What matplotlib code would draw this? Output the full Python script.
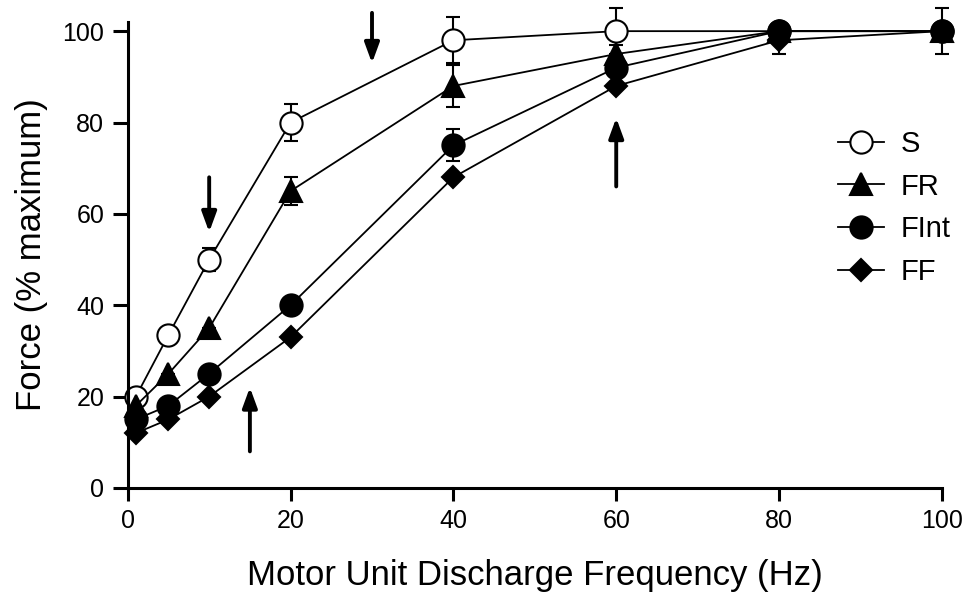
import matplotlib
matplotlib.use('Agg')
import matplotlib.pyplot as plt
from matplotlib.lines import Line2D

plt.rcParams['font.family'] = ['Liberation Sans', 'DejaVu Sans']

# data
freq = [1, 5, 10, 20, 40, 60, 80, 100]
s_force = [20, 33.5, 50, 80, 98, 100, 100, 100]
s_err = [0, 0, 2.5, 4, 5, 5, 0, 0]
fr_force = [18, 25, 35, 65, 88, 95, 100, 100]
fr_err = [0, 0, 0, 3, 4.5, 2, 0, 5]
fint_force = [15, 18, 25, 40, 75, 92, 100, 100]
fint_err = [0, 0, 0, 0, 3.5, 2, 0, 0]
ff_force = [12, 15, 20, 33, 68, 88, 98, 100]
ff_err = [0, 0, 0, 0, 0, 0, 3, 0]

labels = ['S', 'FR', 'FInt', 'FF']
# arrows: (x, y_start, y_end)
arrows = [(10, 68, 56), (30, 104, 93), (15, 8, 22), (60, 66, 81)]

fig = plt.figure(figsize=(9.68, 5.95), dpi=100)
ax = fig.add_axes([0.132, 0.180, 0.841, 0.783])

series = [
    (s_force, s_err, 'o', 'white'),
    (fr_force, fr_err, '^', 'black'),
    (fint_force, fint_err, 'o', 'black'),
    (ff_force, ff_err, 'D', 'black'),
]
sizes = {'o': 16, '^': 16, 'D': 11.5}
handles = []
for (y, err, mk, fc), lab in zip(series, labels):
    style = dict(color='black', lw=1.3, marker=mk, markersize=sizes[mk],
                 markerfacecolor=fc, markeredgecolor='black', markeredgewidth=1.5)
    eb = ax.errorbar(freq, y, yerr=err, fmt='-', ecolor='black', elinewidth=1.5,
                     capsize=5, capthick=3, clip_on=False, **style)
    for part in eb.lines[1] + eb.lines[2]:
        part.set_clip_on(False)
    handles.append(Line2D([], [], label=lab, **style))

for x, y0, y1 in arrows:
    ax.annotate('', xy=(x, y1), xytext=(x, y0),
                arrowprops=dict(arrowstyle='-|>,head_length=0.6,head_width=0.22',
                                lw=2.8, color='black', mutation_scale=20,
                                shrinkA=0, shrinkB=0),
                annotation_clip=False)

ax.set_xlim(0, 100)
ax.set_ylim(0, 102)
ax.set_xticks([0, 20, 40, 60, 80, 100])
ax.set_yticks([0, 20, 40, 60, 80, 100])
ax.spines['top'].set_visible(False)
ax.spines['right'].set_visible(False)
ax.spines['left'].set_linewidth(2.2)
ax.spines['bottom'].set_linewidth(2.2)
ax.tick_params(axis='both', direction='out', width=2.2, labelsize=18, pad=6)
ax.tick_params(axis='y', length=11)
ax.tick_params(axis='x', length=9)

ax.set_xlabel('Motor Unit Discharge Frequency (Hz)', fontsize=25, labelpad=19)
ax.set_ylabel('Force (% maximum)', fontsize=25, labelpad=10)

ax.legend(handles=handles, loc='upper left', bbox_to_anchor=(0.872, 0.768),
          frameon=False, fontsize=21, handlelength=1.6, handletextpad=0.55,
          labelspacing=0.5, borderpad=0, borderaxespad=0)

fig.savefig('out.png', dpi=100)
